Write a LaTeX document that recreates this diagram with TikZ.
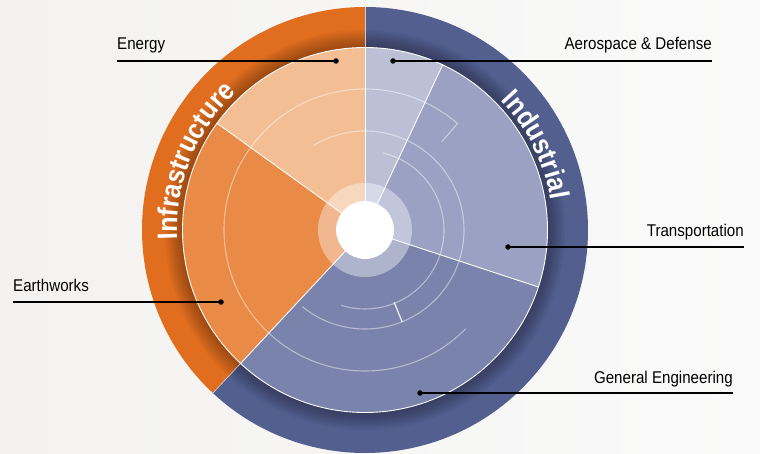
\documentclass[tikz,border=0pt]{standalone}
\usepackage{fontspec}
\setmainfont{Liberation Sans}
\newfontfamily\labfam[FakeStretch=0.89]{Liberation Sans}
\newfontfamily\ringfam[FakeStretch=0.9]{Liberation Sans}
\newcommand\ringfont{\ringfam\bfseries\fontsize{28}{28}\selectfont}
\usetikzlibrary{decorations.text}
\definecolor{bgL}{RGB}{243,242,240}
\definecolor{bgR}{RGB}{250,250,250}
\definecolor{orOut}{RGB}{225,110,31}
\definecolor{blOut}{RGB}{83,95,143}
\definecolor{energy}{RGB}{243,190,148}
\definecolor{earth}{RGB}{233,138,71}
\definecolor{aero}{RGB}{187,192,215}
\definecolor{trans}{RGB}{154,161,194}
\definecolor{geng}{RGB}{122,131,172}
\begin{document}
\begin{tikzpicture}[x=1pt,y=1pt,
  leader/.style={line width=1.6pt, black},
  dotmark/.style={circle, fill=black, inner sep=0pt, minimum size=5.5pt},
  lab/.style={inner sep=0pt, font=\labfam\fontsize{17}{19}\selectfont},
  divider/.style={white, line width=0.9pt},
  guide/.style={white, opacity=0.45, line width=1.1pt},
  tickline/.style={white, opacity=0.85, line width=1.3pt},
  ringlabel/.style={decorate, decoration={text along path, text align=center, text color=white, text={#1}}}]
\shade[left color=bgL, right color=bgR] (0,0) rectangle (760,453);
\useasboundingbox (0,0) rectangle (760,453);
\coordinate (C) at (365,223);
\begin{scope}[shift={(C)}]
  % outer ring
  \fill[orOut] (0,0) -- (90:223) arc[start angle=90,end angle=227,radius=223pt] -- cycle;
  \fill[blOut] (0,0) -- (227:223) arc[start angle=227,end angle=450,radius=223pt] -- cycle;
  \foreach \i in {1,...,12}{%
    \pgfmathsetmacro\rr{182.5+1.5*\i}
    \fill[black,opacity=0.028] (0,0) circle[radius=\rr pt];}
  \draw[white, line width=0.6pt, opacity=0.7] (90:182) -- (90:223);
  \draw[white, line width=0.6pt, opacity=0.7] (227:182) -- (227:223);
  % pie
  \fill[energy] (0,0) -- (90:182.5) arc[start angle=90,end angle=144.2,radius=182.5pt] -- cycle;
  \fill[earth] (0,0) -- (144.2:182.5) arc[start angle=144.2,end angle=227,radius=182.5pt] -- cycle;
  \fill[geng] (0,0) -- (227:182.5) arc[start angle=227,end angle=341.8,radius=182.5pt] -- cycle;
  \fill[trans] (0,0) -- (-18.2:182.5) arc[start angle=-18.2,end angle=64.8,radius=182.5pt] -- cycle;
  \fill[aero] (0,0) -- (64.8:182.5) arc[start angle=64.8,end angle=90,radius=182.5pt] -- cycle;
  % guide arcs
  \draw[guide] (49:117) -- (49:141) arc[start angle=49,end angle=315.6,radius=141pt];
  \draw[guide] (121.5:99) arc[start angle=121.5,end angle=-129.3,radius=99pt];
  \draw[guide] (77:79) arc[start angle=77,end angle=-107.5,radius=79pt];
  \draw[tickline] (-68:78) -- (-68:99);
  % dividers
  \foreach \a in {90,144.2,227,341.8,64.8}
    \draw[divider] (0,0) -- (\a:182.5);
  \draw[white, line width=0.9pt] (0,0) circle[radius=182.5pt];
  % centre
  \fill[white, opacity=0.4, even odd rule] (0,0) circle[radius=47pt] circle[radius=29pt];
  \fill[white] (0,0) circle[radius=29pt];
  % ring labels
  \path[ringlabel={|\ringfont|Infrastructure}] (198:188) arc[start angle=198,end angle=118,radius=188pt];
  \path[ringlabel={|\ringfont|Industrial}] (66.4:188) arc[start angle=66.4,end angle=-13.6,radius=188pt];
\end{scope}
% labels
\node[lab, anchor=base west] (tE) at (117,403) {Energy};
\node[dotmark] (dE) at (336,392) {};
\draw[leader] (dE.center) -- (dE.center -| tE.west);
\node[lab, anchor=base east] (tA) at (712,403) {Aerospace \& Defense};
\node[dotmark] (dA) at (393,392) {};
\draw[leader] (dA.center) -- (dA.center -| tA.east);
\node[lab, anchor=base east] (tT) at (744,216) {Transportation};
\node[dotmark] (dT) at (508,206) {};
\draw[leader] (dT.center) -- (dT.center -| tT.east);
\node[lab, anchor=base east] (tG) at (733,70) {General Engineering};
\node[dotmark] (dG) at (420,60) {};
\draw[leader] (dG.center) -- (dG.center -| tG.east);
\node[lab, anchor=base west] (tW) at (13,162) {Earthworks};
\node[dotmark] (dW) at (221,151) {};
\draw[leader] (dW.center) -- (dW.center -| tW.west);
\end{tikzpicture}
\end{document}
